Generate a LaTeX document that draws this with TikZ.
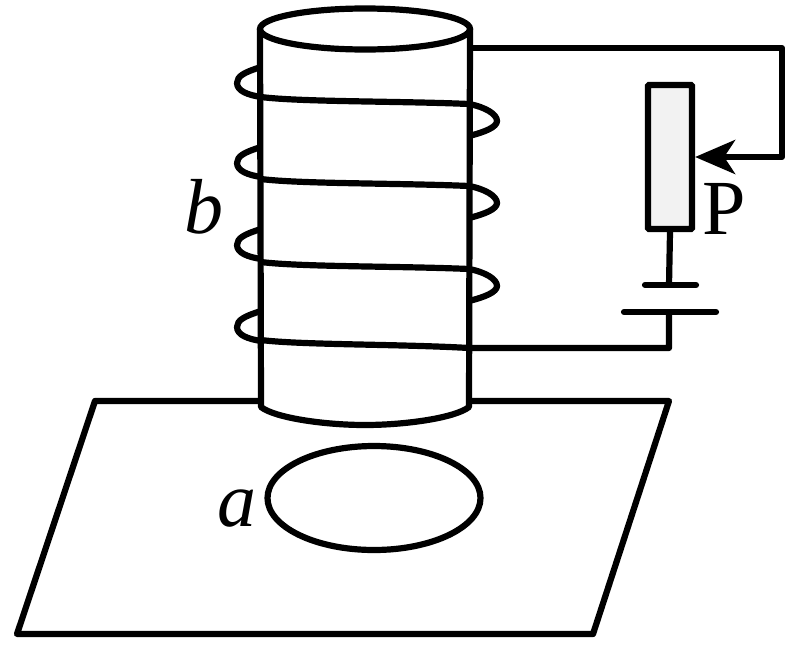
\documentclass[tikz,border=0pt]{standalone}
\usepackage{fontspec}
\setmainfont{Liberation Serif}
\usepackage{xcolor}
\usetikzlibrary{arrows.meta}
\usetikzlibrary{shapes.geometric}
\definecolor{g1}{HTML}{F2F2F2}
\tikzset{>={Stealth[length=40pt,width=34pt,inset=11pt]}}
\tikzstyle{wire}=[line width=6.2pt,line join=round,line cap=round]
\tikzstyle{ring}=[ellipse,draw,line width=6.2pt,inner sep=0pt,outer sep=0pt]
\tikzstyle{label}=[inner sep=0pt,font=\fontsize{78}{78}\selectfont]

\begin{document}
\begin{tikzpicture}[x=1pt,y=-1pt]
  \useasboundingbox (0,0) rectangle (791,648);
  \def\l{261}
  \def\r{469}
  % table top
  \coordinate (pa) at (259,401);
  \coordinate (pb) at (95,401);
  \coordinate (pc) at (17,634);
  \coordinate (pd) at (593,634);
  \coordinate (pe) at (669,401);
  \coordinate (pf) at (471,401);
  \draw[wire,line cap=butt] (pa) -- (pb) -- (pc) -- (pd) -- (pe) -- (pf);
  % solenoid body
  \node[ring,minimum width=210pt,minimum height=41pt] (top) at (365,29) {};
  \draw[wire] (top.west) -- (\l,407) .. controls (275,418) and (325,425) .. (365,425)
    .. controls (405,425) and (455,418) .. (\r,407) -- (top.east);
  % coil, back of each turn
  \foreach \t in {67,147,229,311}{
    \draw[wire,line cap=butt] (\l,\t) .. controls (245,\t+5) and (237,\t+9) .. (237,\t+16)
      .. controls (237,\t+24) and (248,\t+28) .. (\l,\t+30);
  }
  % coil, front of each turn
  \foreach \y in {97,179,262}{
    \draw[wire,line cap=butt] (\l,\y) .. controls (300,\y+5) and (400,\y+4) .. (\r,\y+7)
      .. controls (485,\y+10) and (497,\y+17) .. (497,\y+24)
      .. controls (497,\y+30) and (485,\y+35) .. (\r,\y+39);
  }
  % rheostat
  \node[draw,fill=g1,line width=6.2pt,minimum width=44pt,minimum height=144pt,inner sep=0pt,outer sep=3.1pt,rounded corners=1pt] (rheo) at (670,157) {};
  % battery plates
  \coordinate (bat1l) at (645,285);
  \coordinate (bat1r) at (696,285);
  \coordinate (bat2l) at (624,312);
  \coordinate (bat2r) at (716,312);
  \coordinate (bat1) at (669,285);
  \coordinate (bat2) at (669,312);
  \draw[wire] (bat1l) -- (bat1r);
  \draw[wire] (bat2l) -- (bat2r);
  \draw[wire,line cap=butt] (rheo.south) -- (bat1);
  % circuit wires
  \coordinate (c1) at (782,48);
  \coordinate (w1) at (471,48);
  \coordinate (w2) at (261,340);
  \coordinate (c3) at (669,348);
  \draw[wire,line cap=butt,->] (w1) -- (c1) -- (c1|-rheo.east) -- (rheo.east);
  \draw[wire,line cap=butt] (w2) .. controls (300,345) and (400,344) .. (\r,348) -- (c3) -- (bat2);
  % ring in the table
  \node[ring,minimum width=213pt,minimum height=104pt] (loop) at (374,498) {};
  % labels
  \node[label] (b) at (204,207) {\itshape b};
  \node[label,left=0pt] (a) at (257,509) {\itshape a};
  \node[label] (P) at (724,209) {P};
\end{tikzpicture}
\end{document}
